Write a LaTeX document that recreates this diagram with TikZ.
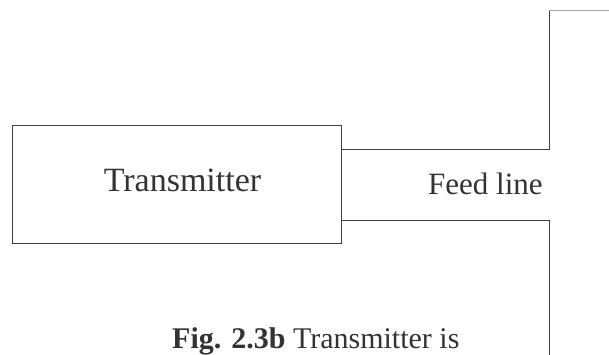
\documentclass[tikz,border=0pt]{standalone}
\usepackage{fontspec}
\setmainfont{Liberation Serif}
\begin{document}
\begin{tikzpicture}[x=1pt,y=-1pt,
  wire/.style={line width=0.8pt, draw=black!75},
  faintwire/.style={line width=0.6pt, draw=black!35},
  lbl/.style={inner sep=0pt, text=black!80}]
\useasboundingbox (0,0) rectangle (609,355);
\node[wire, draw, minimum width=329pt, minimum height=118pt, inner sep=0pt] (tx) at (176.5,184) {};
\node[lbl, anchor=base, font=\fontsize{34}{38}\selectfont] (txlabel) at (182.5,192) {Transmitter};
\coordinate (a1) at (549,149);
\coordinate (a2) at (549,10);
\coordinate (a3) at (609,10);
\coordinate (b1) at (549,220);
\coordinate (b2) at (549,355);
\draw[wire] (tx.east |- a1) -- (a1) -- (a2);
\draw[faintwire] (a2) -- (a3);
\draw[wire] (tx.east |- b1) -- (b1) -- (b2);
\node[lbl, anchor=base west, font=\fontsize{31}{36}\selectfont] (feed) at (428,194) {Feed line};
\node[lbl, anchor=base west, font=\fontsize{30}{36}\selectfont] (cap) at (172,348) {\textbf{Fig. 2.3b} Transmitter is};
\end{tikzpicture}
\end{document}
